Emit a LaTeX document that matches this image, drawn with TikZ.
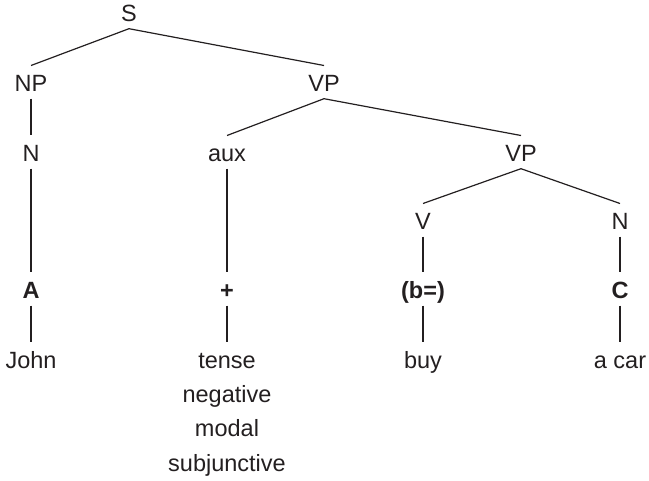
\documentclass[tikz,border=0pt]{standalone}
\usepackage{fontspec}
\setmainfont{Liberation Sans}
\definecolor{ink}{HTML}{231F20}
\begin{document}
\begin{tikzpicture}[x=1pt,y=-1pt,
  % text height/depth include the gap left between a label and its branches
  lbl/.style={inner sep=0pt, text height=26.3pt, text depth=6.5pt, anchor=base,
    font=\fontsize{23.5}{28}\selectfont, text=ink},
  blbl/.style={lbl, font=\fontsize{23.5}{28}\selectfont\bfseries},
  branch/.style={draw=ink, line width=1.2pt}]
\useasboundingbox (0,0) rectangle (649,481);

% phrase structure
\node[lbl] (S)   at (129,22)  {S};
\node[lbl] (NP)  at (31,92)   {NP};
\node[lbl] (VP)  at (324,92)  {VP};
\node[lbl] (N)   at (31,162)  {N};
\node[lbl] (aux) at (227,162) {aux};
\node[lbl] (VPb) at (521,162) {VP};
\node[lbl] (V)   at (423,230) {V};
\node[lbl] (Nb)  at (620,230) {N};

% marked constituents
\node[blbl] (A)    at (31,299)  {A};
\node[blbl] (plus) at (227,299) {+};
\node[blbl] (b)    at (423,299) {(b=)};
\node[blbl] (C)    at (620,299) {C};

% words
\node[lbl] (john)  at (31,369)  {John};
\node[lbl] (tense) at (227,369) {tense};
\node[lbl] (neg)   at (227,403) {negative};
\node[lbl] (modal) at (227,437) {modal};
\node[lbl] (subj)  at (227,471.5) {subjunctive};
\node[lbl] (buy)   at (423,369) {buy};
\node[lbl] (car)   at (620,369) {a car};

% branches
\draw[branch] (S.south) -- (NP.north);
\draw[branch] (S.south) -- (VP.north);
\draw[branch] (NP.south) -- (N.north);
\draw[branch] (VP.south) -- (aux.north);
\draw[branch] (VP.south) -- (VPb.north);
\draw[branch] (VPb.south) -- (V.north);
\draw[branch] (VPb.south) -- (Nb.north);
\draw[branch] (N.south) -- (A.north);
\draw[branch] (aux.south) -- (plus.north);
\draw[branch] (V.south) -- (b.north);
\draw[branch] (Nb.south) -- (C.north);
\draw[branch] (A.south) -- (john.north);
\draw[branch] (plus.south) -- (tense.north);
\draw[branch] (b.south) -- (buy.north);
\draw[branch] (C.south) -- (car.north);
\end{tikzpicture}
\end{document}
